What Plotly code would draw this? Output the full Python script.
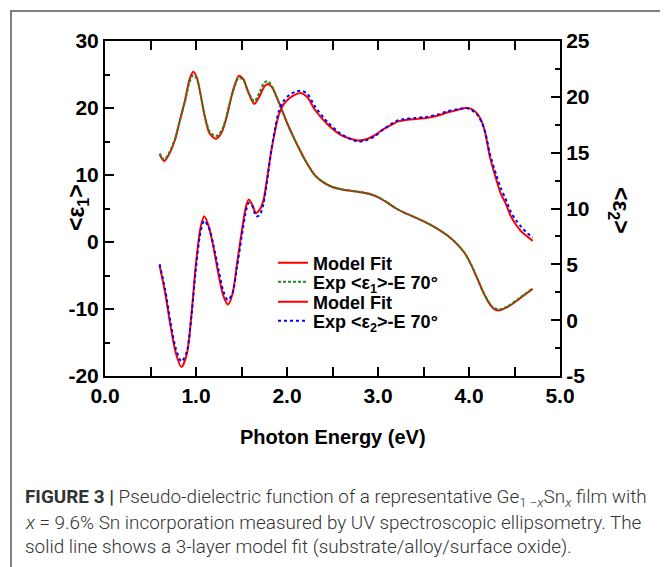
import plotly.graph_objects as go

# ---------------- data ----------------
e1_fit_E = [0.60, 0.65, 0.70, 0.77, 0.82, 0.88, 0.93, 0.97, 1.01, 1.05, 1.10, 1.15, 1.22, 1.28,
            1.33, 1.38, 1.42, 1.47, 1.52, 1.57, 1.64, 1.70, 1.75, 1.79, 1.84, 1.89, 1.95, 2.00,
            2.06, 2.12, 2.20, 2.31, 2.40, 2.50, 2.62, 2.78, 2.90, 3.00, 3.10, 3.20, 3.30, 3.42,
            3.53, 3.65, 3.76, 3.86, 3.95, 4.02, 4.09, 4.15, 4.21, 4.26, 4.31, 4.36, 4.41, 4.46,
            4.55, 4.62, 4.70]
e1_fit = [13.1, 12.1, 13.0, 15.3, 18.0, 21.2, 24.3, 25.4, 24.5, 22.0, 18.5, 16.2, 15.4, 16.3,
          18.3, 21.2, 23.2, 24.8, 24.3, 22.5, 20.6, 21.8, 23.2, 23.6, 23.0, 21.5, 19.5, 17.8,
          16.0, 14.3, 12.2, 9.9, 8.9, 8.2, 7.8, 7.5, 7.2, 6.7, 5.9, 5.0, 4.3, 3.6,
          2.9, 2.0, 1.0, -0.2, -1.6, -3.3, -5.4, -7.3, -8.9, -9.8, -10.2, -10.1, -9.8, -9.4,
          -8.5, -7.8, -7.0]

e1_exp_E = e1_fit_E
e1_exp = [13.2, 12.3, 13.2, 15.4, 18.0, 21.0, 23.9, 24.9, 24.3, 22.1, 18.7, 16.5, 15.8, 16.6,
          18.5, 21.2, 23.0, 24.5, 24.2, 22.6, 21.0, 22.4, 23.8, 24.0, 23.1, 21.5, 19.5, 17.8,
          16.0, 14.3, 12.2, 9.9, 8.9, 8.2, 7.8, 7.5, 7.2, 6.7, 5.9, 5.0, 4.3, 3.6,
          2.9, 2.0, 1.0, -0.2, -1.6, -3.3, -5.4, -7.3, -8.8, -9.7, -10.0, -10.0, -9.7, -9.3,
          -8.4, -7.7, -6.9]

e2_fit_E = [0.60, 0.66, 0.72, 0.78, 0.84, 0.90, 0.95, 1.00, 1.05, 1.09, 1.14, 1.19, 1.25, 1.30,
            1.35, 1.40, 1.45, 1.50, 1.55, 1.58, 1.62, 1.66, 1.70, 1.74, 1.78, 1.82, 1.87, 1.91,
            1.96, 2.03, 2.09, 2.15, 2.22, 2.31, 2.45, 2.59, 2.70, 2.78, 2.87, 2.97, 3.06, 3.15,
            3.22, 3.29, 3.40, 3.53, 3.65, 3.76, 3.88, 3.97, 4.03, 4.09, 4.14, 4.18, 4.23, 4.30,
            4.35, 4.40, 4.46, 4.52, 4.58, 4.64, 4.70]
e2_fit = [4.9, 2.5, -0.5, -3.0, -4.2, -3.0, 0.5, 5.1, 8.3, 9.3, 8.4, 6.6, 4.0, 2.2,
          1.4, 2.3, 5.0, 7.8, 10.2, 10.8, 10.3, 9.6, 9.9, 10.7, 12.6, 14.8, 17.0, 18.4,
          19.3, 19.9, 20.2, 20.35, 20.0, 18.8, 17.5, 16.6, 16.25, 16.1, 16.2, 16.6, 17.1, 17.5,
          17.8, 17.9, 18.0, 18.1, 18.3, 18.6, 18.85, 19.0, 18.9, 18.5, 17.8, 16.7, 14.6, 12.6,
          11.3, 10.5, 9.3, 8.5, 7.9, 7.5, 7.1]

e2_exp_E = e2_fit_E
e2_exp = [5.0, 2.8, -0.2, -2.6, -3.7, -2.8, 0.4, 4.7, 7.9, 8.9, 8.3, 6.8, 4.4, 2.6,
          1.8, 2.4, 4.7, 7.4, 9.8, 10.5, 10.2, 9.3, 9.4, 10.4, 12.4, 14.8, 17.2, 18.7,
          19.6, 20.2, 20.45, 20.55, 20.3, 19.1, 17.7, 16.7, 16.2, 16.0, 16.1, 16.5, 17.1, 17.6,
          17.9, 18.0, 18.1, 18.2, 18.4, 18.7, 18.9, 19.0, 18.8, 18.4, 17.7, 16.8, 14.9, 13.0,
          11.8, 10.9, 9.7, 8.9, 8.3, 7.8, 7.4]

x_ticks = [0, 1, 2, 3, 4, 5]
x_ticktext = ["0.0", "1.0", "2.0", "3.0", "4.0", "5.0"]
y1_ticks = [-20, -10, 0, 10, 20, 30]
y1_ticktext = ["-20", "-10", "0", "10", "20", "30"]
y2_ticks = [-5, 0, 5, 10, 15, 20, 25]
y2_ticktext = ["-5", "0", "5", "10", "15", "20", "25"]

legend_names = ["Model Fit", "Exp &lt;ε<sub>1</sub>&gt;-E 70°",
                "Model Fit", "Exp &lt;ε<sub>2</sub>&gt;-E 70°"]

# ---------------- figure ----------------
# the page body has an 8px margin, so the figure is 8px smaller and
# every page-pixel position below is shifted by OFF
OFF = 8
PAGE_W, PAGE_H = 668, 567
W, H = PAGE_W - OFF, PAGE_H - OFF
PL, PR, PT, PB = 105, 560, 41, 376          # plot area in page pixels
L, R, T, B = PL - OFF, W - (PR - OFF), PT - OFF, H - (PB - OFF)
pw, ph = W - L - R, H - T - B


def px(xp):
    return (xp - OFF - L) / pw


def py(yp):
    return (H - B - (yp - OFF)) / ph


FAM = "Liberation Sans, Arial, sans-serif"
BOLD = dict(family=FAM, size=21, color="black", weight="bold")

fig = go.Figure()
fig.add_trace(go.Scatter(x=e1_fit_E, y=e1_fit, mode="lines", name=legend_names[0], legend="legend",
                         line=dict(color="#ff0000", width=2, shape="spline", smoothing=0.8)))
fig.add_trace(go.Scatter(x=e1_exp_E, y=e1_exp, mode="lines", name=legend_names[1], legend="legend2",
                         line=dict(color="#1a8c1a", width=2, dash="3px,2px", shape="spline", smoothing=0.8)))
fig.add_trace(go.Scatter(x=e2_fit_E, y=e2_fit, mode="lines", name=legend_names[2], yaxis="y2",
                         legend="legend3",
                         line=dict(color="#ff0000", width=2, shape="spline", smoothing=0.8)))
fig.add_trace(go.Scatter(x=e2_exp_E, y=e2_exp, mode="lines", name=legend_names[3], yaxis="y2",
                         legend="legend4",
                         line=dict(color="#0000ff", width=2, dash="3px,3px", shape="spline", smoothing=0.8)))

axis_common = dict(showgrid=False, zeroline=False, showline=True, linecolor="black", linewidth=2,
                   ticks="inside", ticklen=9, tickwidth=1.5, tickcolor="black", tickfont=BOLD,
                   automargin=False, tickmode="array")

LEGFONT = dict(family=FAM, size=18, color="black", weight="bold")
legend_rows = [263, 282, 302, 321]
legends = {}
for i, yy in enumerate(legend_rows):
    key = "legend" if i == 0 else "legend%d" % (i + 1)
    legends[key] = dict(x=px(273), y=py(yy), xanchor="left", yanchor="middle",
                        bgcolor="rgba(0,0,0,0)", borderwidth=0, font=LEGFONT)

fig.update_layout(
    template="none",
    width=W, height=H,
    margin=dict(l=L, r=R, t=T, b=B, pad=0, autoexpand=False),
    paper_bgcolor="white", plot_bgcolor="white",
    showlegend=True,
    xaxis=dict(range=[0, 5], tickvals=x_ticks, ticktext=x_ticktext, mirror="allticks",
               minor=dict(dtick=0.5, ticks="inside", ticklen=5, tickwidth=1.5, tickcolor="black"),
               **axis_common),
    yaxis=dict(range=[-20, 30], tickvals=y1_ticks, ticktext=y1_ticktext,
               minor=dict(dtick=5, ticks="inside", ticklen=5, tickwidth=1.5, tickcolor="black"),
               **axis_common),
    yaxis2=dict(range=[-5, 25], tickvals=y2_ticks, ticktext=y2_ticktext, overlaying="y", side="right",
                minor=dict(dtick=2.5, ticks="inside", ticklen=5, tickwidth=1.5, tickcolor="black"),
                **axis_common),
    **legends,
)

# figure frame
fig.add_shape(type="rect", xref="paper", yref="paper", x0=px(11), x1=px(720), y0=py(640), y1=py(11),
              line=dict(color="#555555", width=1.5), fillcolor="rgba(0,0,0,0)", layer="below")

# axis titles
fig.add_annotation(text="&lt;ε<sub>1</sub>&gt;", x=px(77), y=py(208), xref="paper", yref="paper",
                   xanchor="center", yanchor="middle",
                   showarrow=False, textangle=-90, font=dict(BOLD, size=23))
fig.add_annotation(text="&lt;ε<sub>2</sub>&gt;", x=px(620), y=py(210), xref="paper", yref="paper",
                   xanchor="center", yanchor="middle",
                   showarrow=False, textangle=90, font=dict(BOLD, size=23))
fig.add_annotation(text="Photon Energy (eV)", x=0.5, y=py(437), xref="paper", yref="paper",
                   xanchor="center", yanchor="middle",
                   showarrow=False, font=dict(BOLD, size=20))

# caption
CAP = dict(family="Roboto, Liberation Sans, sans-serif", size=18.9, color="#333333", weight=300)
cap_lines = [
    "<b>FIGURE 3 |</b> Pseudo-dielectric function of a representative Ge<sub>1 −<i>x</i></sub>Sn<sub><i>x</i></sub> film with",
    "<i>x</i> = 9.6% Sn incorporation measured by UV spectroscopic ellipsometry. The",
    "solid line shows a 3-layer model fit (substrate/alloy/surface oxide).",
]
for txt, yy in zip(cap_lines, [497, 522, 546]):
    fig.add_annotation(text=txt, x=px(23), y=py(yy), xref="paper", yref="paper", xanchor="left",
                       yanchor="middle", showarrow=False, font=CAP, align="left")

fig.write_html("out.html")
